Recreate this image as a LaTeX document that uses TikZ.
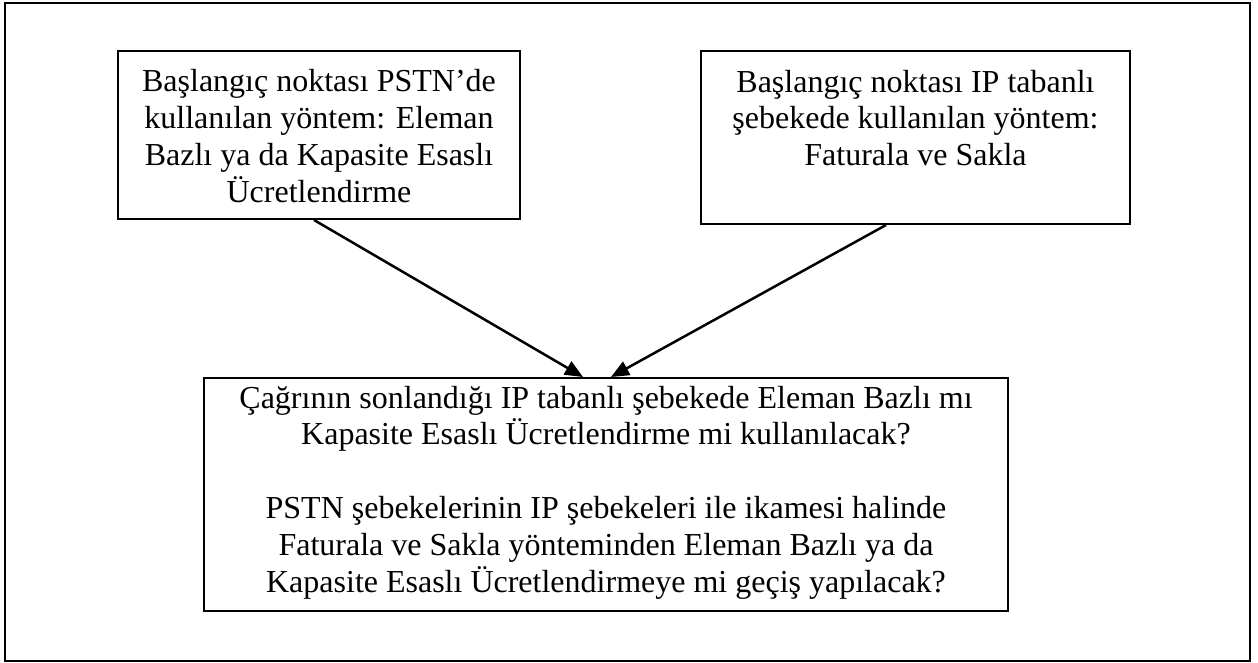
\documentclass[tikz,border=0pt]{standalone}
\usepackage{fontspec}
\setmainfont{Liberation Serif}
\usetikzlibrary{arrows.meta}
\begin{document}
\begin{tikzpicture}[x=1pt,y=-1pt,
  outerframe/.style={draw, line width=2.5, inner sep=0},
  box/.style={draw, line width=2, rectangle, inner sep=0},
  txt/.style={align=center, inner sep=0, font=\fontsize{32}{36.8}\selectfont},
  arr/.style={-{Triangle[length=18,width=15]}, line width=2.5}]
  \useasboundingbox (0,0) rectangle (1258,663);
  \node[outerframe, minimum width=1245, minimum height=658] (frame) at (627.5,332) {};

  % boxes
  \node[box, minimum width=402, minimum height=168] (b1) at (319,135) {};
  \node[box, minimum width=429, minimum height=173] (b2) at (915.5,137.5) {};
  \node[box, minimum width=804, minimum height=233] (b3) at (606,494.5) {};

  % texts
  \node[txt] (t1) at (319,136) {Başlangıç noktası PSTN’de\\kullanılan yöntem: Eleman\\Bazlı ya da Kapasite Esaslı\\Ücretlendirme};
  \node[txt] (t2) at (915.5,118) {Başlangıç noktası IP tabanlı\\şebekede kullanılan yöntem:\\Faturala ve Sakla};
  \node[txt] (t3) at (606,492.5) {Çağrının sonlandığı IP tabanlı şebekede Eleman Bazlı mı\\Kapasite Esaslı Ücretlendirme mi kullanılacak?\\[36.8pt]PSTN şebekelerinin IP şebekeleri ile ikamesi halinde\\Faturala ve Sakla yönteminden Eleman Bazlı ya da\\Kapasite Esaslı Ücretlendirmeye mi geçiş yapılacak?};

  % connector end points
  \coordinate (s1) at ([xshift=197]b1.south west);
  \coordinate (s2) at ([xshift=186]b2.south west);
  \coordinate (e1) at ([xshift=380]b3.north west);
  \coordinate (e2) at ([xshift=408]b3.north west);
  \draw[arr] (s1) -- (e1);
  \draw[arr] (s2) -- (e2);
\end{tikzpicture}
\end{document}
